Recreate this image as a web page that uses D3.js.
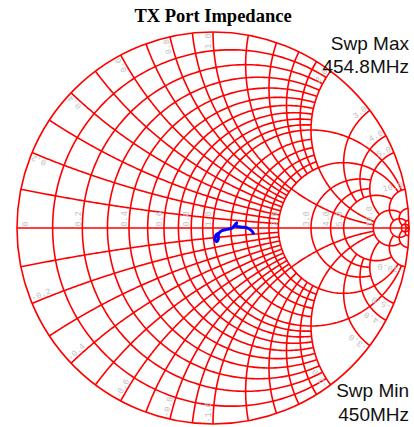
<!DOCTYPE html>
<html>
<head>
<meta charset="utf-8">
<title>TX Port Impedance</title>
<script src="https://cdn.jsdelivr.net/npm/d3@7/dist/d3.min.js"></script>
<style>
body { margin:0; background:#fff; }
</style>
</head>
<body>
<script>
var title = "TX Port Impedance";
var swpMax = ["Swp Max", "454.8MHz"];
var swpMin = ["Swp Min", "450MHz"];

// constant resistance circles: [r, |x| limit]
var rCircles = [[0.1,2],[0.2,2],[0.3,2],[0.4,2],[0.5,2],[0.6,2],[0.7,2],[0.8,2],[0.9,2],
                [1,10],[1.2,2],[1.4,2],[1.6,2],[1.8,2],[2,10],
                [3,5],[4,5],[5,10],[10,20],[20,50],[50,Infinity]];
// constant reactance arcs: [x, r limit]
var xArcs = [[0.1,2],[0.2,2],[0.3,2],[0.4,2],[0.5,2],[0.6,2],[0.7,2],[0.8,2],[0.9,2],
             [1,10],[1.2,2],[1.4,2],[1.6,2],[1.8,2],[2,10],
             [3,5],[4,5],[5,10],[10,20],[20,50],[50,Infinity]];
var rLabels = [0, 0.2, 0.4, 0.6, 0.8, 1, 2, 3, 4, 5, 10];
var xLabels = [0.2, 0.4, 0.6, 0.8, 1, 2, 3, 4, 5, 10];

// measured reflection coefficient, 450 - 454.8 MHz
var gRe = [0.206, 0.197, 0.180, 0.155, 0.129, 0.117, 0.121, 0.112, 0.095, 0.070, 0.044, 0.028, 0.027, 0.019, 0.010, 0.015, 0.027];
var gIm = [-0.027, -0.014, -0.002, 0.004, 0.007, 0.010, 0.027, 0.015, -0.002, -0.007, -0.014, -0.030, -0.058, -0.070, -0.058, -0.036, -0.027];

var width = 414, height = 427;
var cx = 213, cy = 228, R = 196;

var svg = d3.select("body").append("svg").attr("width", width).attr("height", height);
var sx = d3.scaleLinear().domain([-1, 1]).range([cx - R, cx + R]);
var sy = d3.scaleLinear().domain([-1, 1]).range([cy + R, cy - R]);
var line = d3.line().x(function(d){ return sx(d[0]); }).y(function(d){ return sy(d[1]); });

function gamma(r, x) {
	if (!isFinite(r) || !isFinite(x)) return [1, 0];
	var den = (r + 1) * (r + 1) + x * x;
	return [(r * r - 1 + x * x) / den, 2 * x / den];
}
function norm(a) { while (a < 0) a += 2 * Math.PI; return a; }

function rArc(r, X) {
	var c = r / (r + 1), rho = 1 / (r + 1);
	var p = gamma(r, X);
	var a0 = isFinite(X) ? Math.atan2(p[1], p[0] - c) : 0;
	var pts = [];
	for (var i = 0; i <= 200; i++) {
		var a = a0 + (2 * Math.PI - 2 * a0) * i / 200;
		pts.push([c + rho * Math.cos(a), rho * Math.sin(a)]);
	}
	return pts;
}
function xArc(x, r2, sign) {
	var c = 1 / x;
	var p1 = gamma(0, x), p2 = gamma(r2, x);
	var a1 = norm(Math.atan2(p1[1] - c, p1[0] - 1));
	var a2 = norm(Math.atan2(p2[1] - c, p2[0] - 1));
	var pts = [];
	for (var i = 0; i <= 200; i++) {
		var a = a1 + (a2 - a1) * i / 200;
		pts.push([1 + c * Math.cos(a), sign * (c + c * Math.sin(a))]);
	}
	return pts;
}

var grid = svg.append("g").attr("fill", "none").attr("stroke", "#ff0000").attr("stroke-width", 1.6);
rCircles.forEach(function(d){
	grid.append("path").attr("d", line(rArc(d[0], d[1])));
});
xArcs.forEach(function(d){
	grid.append("path").attr("d", line(xArc(d[0], d[1], 1)));
	grid.append("path").attr("d", line(xArc(d[0], d[1], -1)));
});
grid.append("line").attr("x1", sx(-1)).attr("x2", sx(1)).attr("y1", sy(0)).attr("y2", sy(0));
grid.append("circle").attr("cx", sx(0)).attr("cy", sy(0)).attr("r", R);

// grey grid labels
var lab = svg.append("g").attr("fill", "#c0c0c0").attr("font-family", "Liberation Mono, Courier New, monospace").attr("font-size", 8.5);
rLabels.forEach(function(v){
	var p = gamma(v, 0);
	var t = v === 0 ? "0" : v.toFixed(1);
	var px = v === 0 ? sx(p[0]) + 10.5 : sx(p[0]) - 1.8;
	lab.append("text").attr("transform", "translate(" + px + "," + (sy(0) - 1.5) + ") rotate(-90)").text(t);
});
var k = (R - 1.5) / R;
xLabels.forEach(function(v){
	// positive: reads outward, negative: reads inward
	var p = gamma(0, v);
	var th = Math.atan2(p[1], p[0]) * 180 / Math.PI;
	lab.append("text").attr("transform", "translate(" + sx(p[0] * k) + "," + sy(p[1] * k) + ") rotate(" + (-th) + ")")
		.attr("text-anchor", "end").attr("dy", -2).text(v.toFixed(1));
	lab.append("text").attr("transform", "translate(" + sx(p[0] * k) + "," + sy(-p[1] * k) + ") rotate(" + (th - 180) + ")")
		.attr("text-anchor", "start").attr("dy", -2).text("-" + v.toFixed(1));
});

svg.append("path").attr("fill", "none").attr("stroke", "#0000ff").attr("stroke-width", 3)
	.attr("stroke-linejoin", "round").attr("stroke-linecap", "round")
	.attr("d", line.curve(d3.curveCatmullRom)(gRe.map(function(d, i){ return [d, gIm[i]]; })));

svg.append("text").attr("x", 213).attr("y", 21.7).attr("text-anchor", "middle")
	.attr("font-family", "Liberation Serif, Times New Roman, serif").attr("font-weight", "bold").attr("font-size", 18.5)
	.text(title);
var info = svg.append("g").attr("font-family", "Liberation Sans, Arial, sans-serif").attr("font-size", 19)
	.attr("text-anchor", "end").attr("fill", "#111");
info.append("text").attr("x", 409).attr("y", 49.5).text(swpMax[0]);
info.append("text").attr("x", 409).attr("y", 73).text(swpMax[1]);
info.append("text").attr("x", 409).attr("y", 397).text(swpMin[0]);
info.append("text").attr("x", 409).attr("y", 421).text(swpMin[1]);
</script>
</body>
</html>
